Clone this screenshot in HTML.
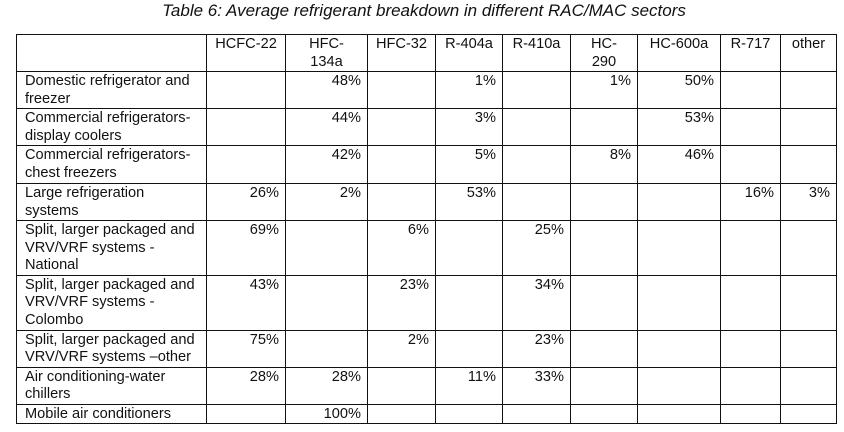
<!DOCTYPE html>
<html><head><meta charset="utf-8"><style>
body{margin:0;width:844px;height:432px;background:#fff;font-family:"Liberation Sans",sans-serif;color:#111;position:relative;overflow:hidden}
#title{position:absolute;left:0;width:844px;top:1px;text-align:center;font-style:italic;font-size:17px;padding-left:4px;box-sizing:border-box}
table{position:absolute;left:16px;top:34px;border-collapse:collapse;table-layout:fixed;font-size:14.6px;line-height:17.5px}
td{border:1.3px solid #111;padding:1px 6px 0 6px;vertical-align:top;overflow:hidden}
td.l{padding-left:8px;padding-right:2px}
td.v{text-align:right}
tr.h td{text-align:center}
</style></head><body>
<div id="title">Table 6: Average refrigerant breakdown in different RAC/MAC sectors</div>
<table>
<colgroup><col style="width:190px"><col style="width:79px"><col style="width:82px"><col style="width:68px"><col style="width:67px"><col style="width:68px"><col style="width:67px"><col style="width:83px"><col style="width:60px"><col style="width:56px"></colgroup>
<tr class="h" style="height:37px"><td></td><td>HCFC-22</td><td>HFC-<br>134a</td><td>HFC-32</td><td>R-404a</td><td>R-410a</td><td>HC-<br>290</td><td>HC-600a</td><td>R-717</td><td>other</td></tr>
<tr style="height:37px"><td class="l">Domestic refrigerator and freezer</td><td></td><td class="v">48%</td><td></td><td class="v">1%</td><td></td><td class="v">1%</td><td class="v">50%</td><td></td><td></td></tr>
<tr style="height:37px"><td class="l">Commercial refrigerators-display coolers</td><td></td><td class="v">44%</td><td></td><td class="v">3%</td><td></td><td></td><td class="v">53%</td><td></td><td></td></tr>
<tr style="height:38px"><td class="l">Commercial refrigerators-chest freezers</td><td></td><td class="v">42%</td><td></td><td class="v">5%</td><td></td><td class="v">8%</td><td class="v">46%</td><td></td><td></td></tr>
<tr style="height:37px"><td class="l">Large refrigeration<br>systems</td><td class="v">26%</td><td class="v">2%</td><td></td><td class="v">53%</td><td></td><td></td><td></td><td class="v">16%</td><td class="v">3%</td></tr>
<tr style="height:54px"><td class="l">Split, larger packaged and VRV/VRF systems -<br>National</td><td class="v">69%</td><td></td><td class="v">6%</td><td></td><td class="v">25%</td><td></td><td></td><td></td><td></td></tr>
<tr style="height:55px"><td class="l">Split, larger packaged and VRV/VRF systems -<br>Colombo</td><td class="v">43%</td><td></td><td class="v">23%</td><td></td><td class="v">34%</td><td></td><td></td><td></td><td></td></tr>
<tr style="height:37px"><td class="l">Split, larger packaged and VRV/VRF systems –other</td><td class="v">75%</td><td></td><td class="v">2%</td><td></td><td class="v">23%</td><td></td><td></td><td></td><td></td></tr>
<tr style="height:37px"><td class="l">Air conditioning-water<br>chillers</td><td class="v">28%</td><td class="v">28%</td><td></td><td class="v">11%</td><td class="v">33%</td><td></td><td></td><td></td><td></td></tr>
<tr style="height:19px"><td class="l">Mobile air conditioners</td><td></td><td class="v">100%</td><td></td><td></td><td></td><td></td><td></td><td></td><td></td></tr>
</table>
</body></html>
